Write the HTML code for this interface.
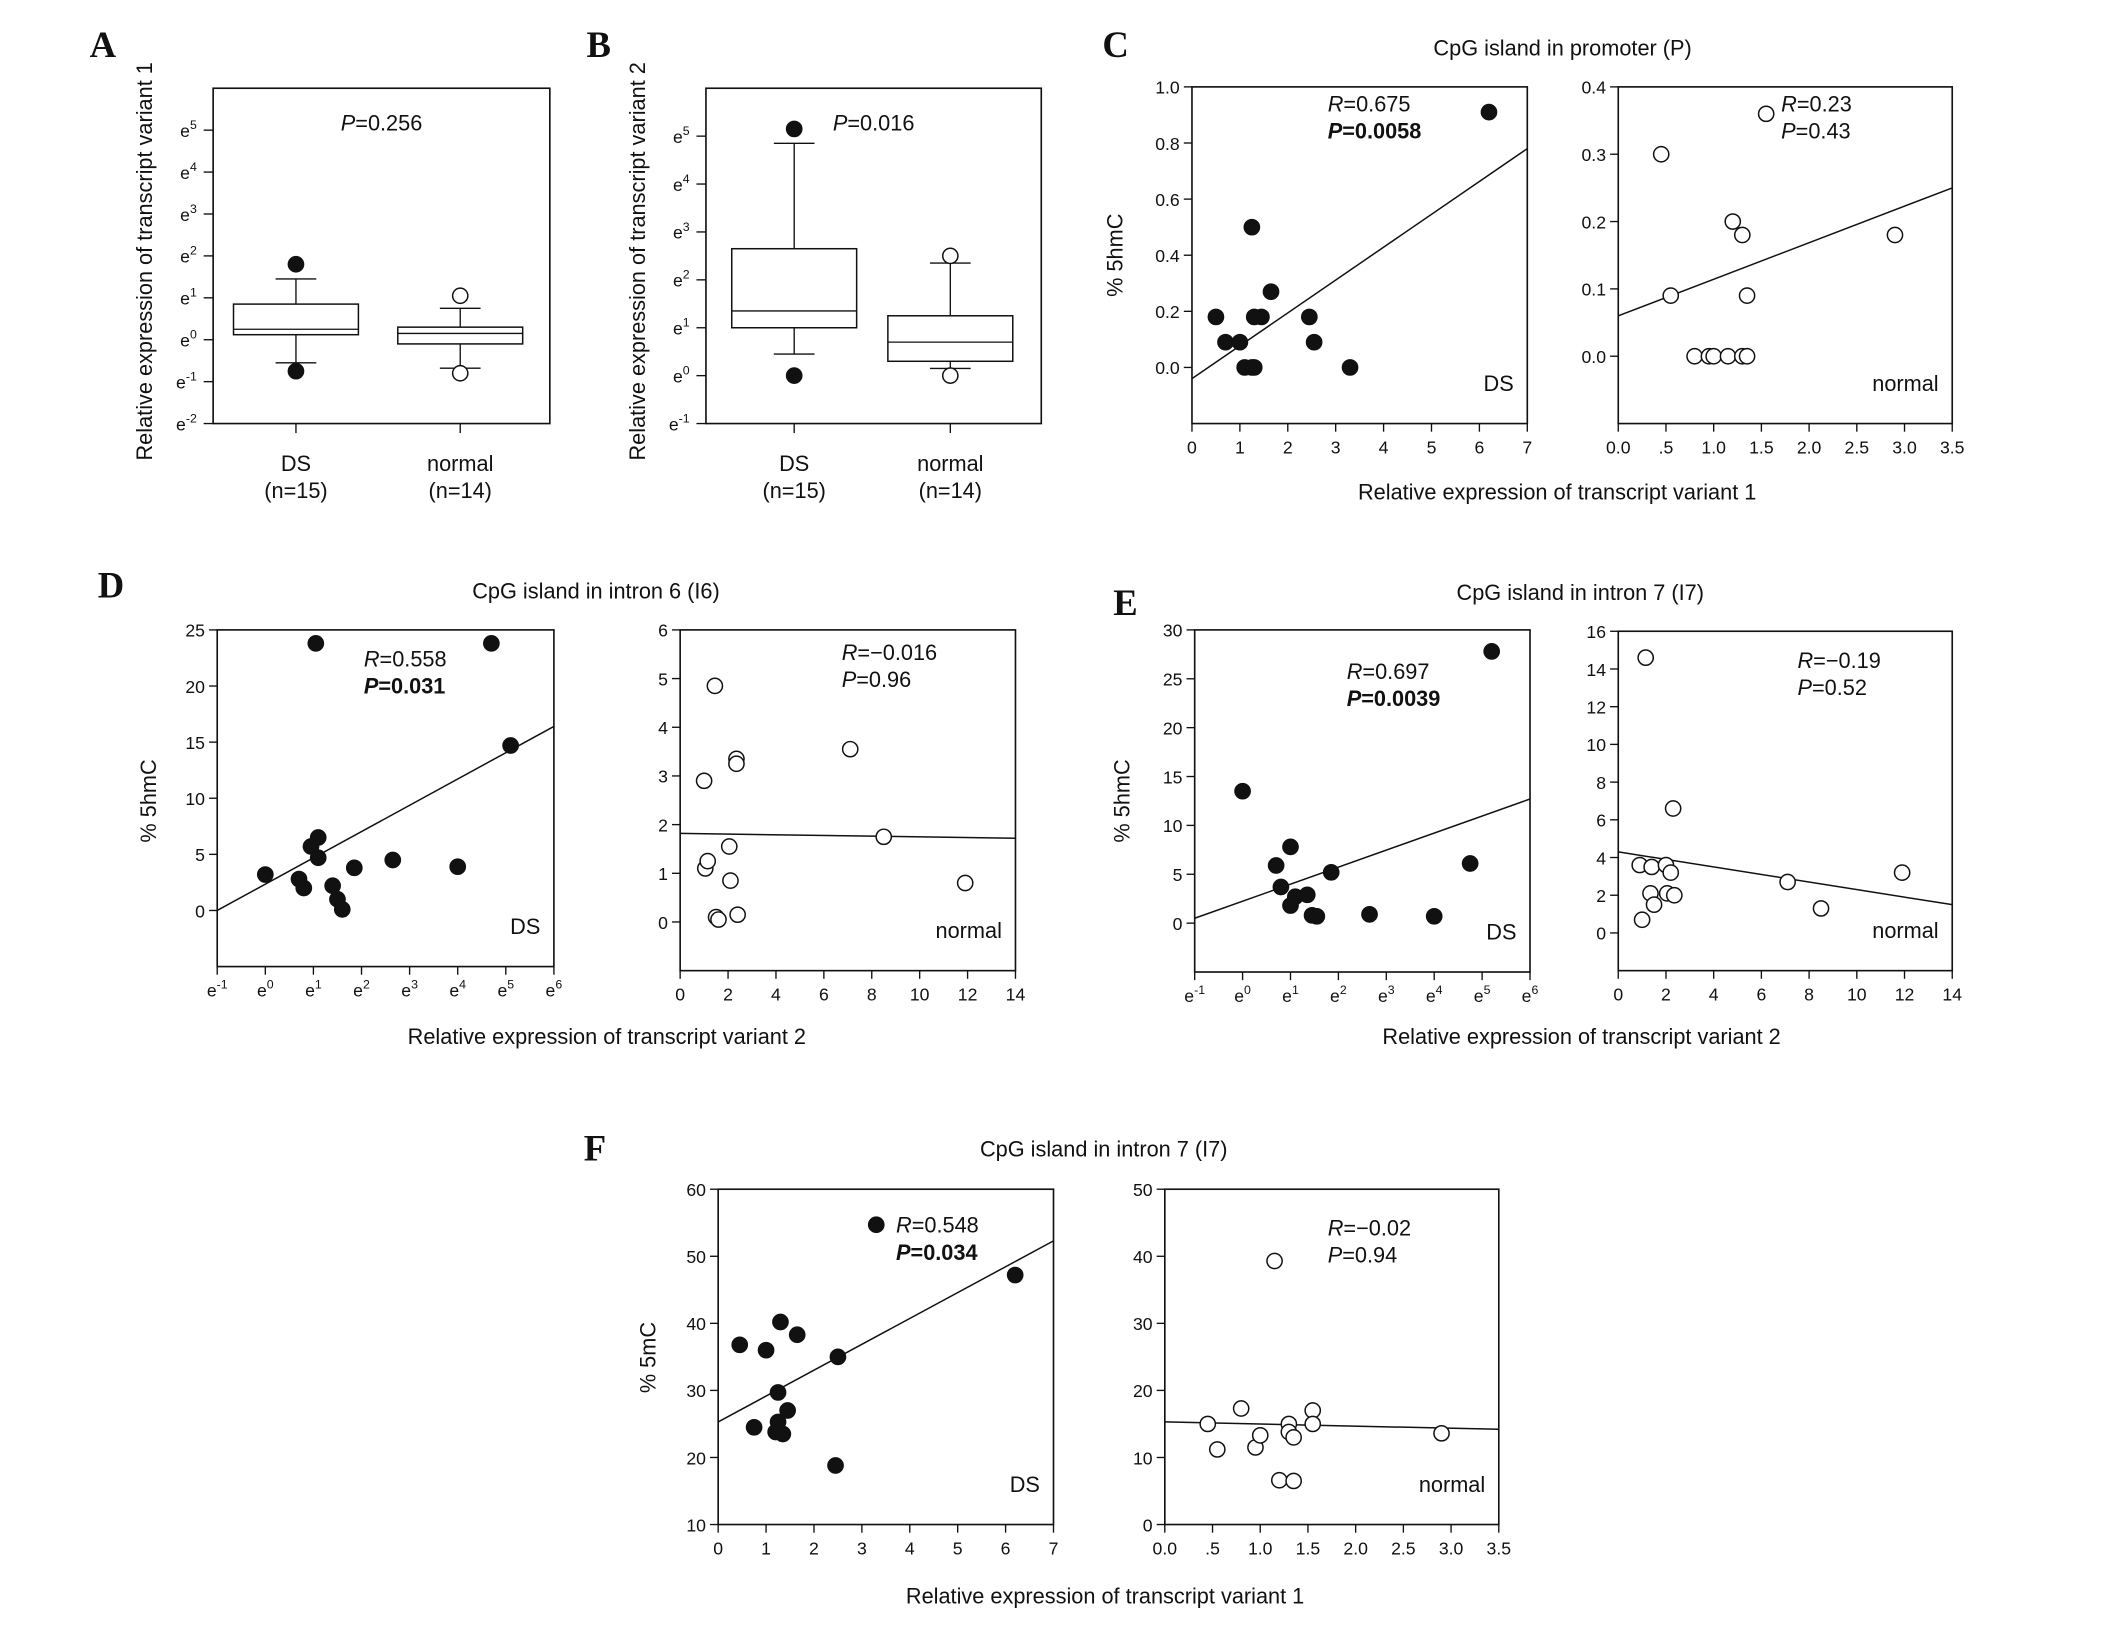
<!DOCTYPE html>
<html><head><meta charset="utf-8"><style>
html,body{margin:0;padding:0;background:#fff}
svg{display:block}
text{font-family:"Liberation Sans",Arial,sans-serif;fill:#111}
.pl{font-family:"Liberation Serif",serif;font-weight:bold;font-size:27px}
</style></head><body>
<svg id="fig" width="2126" height="1644" viewBox="0 0 1566 1211" preserveAspectRatio="none" xmlns="http://www.w3.org/2000/svg">
<g id="root"></g>
</svg>
<script>
// ---------- Data ----------
const boxCategories = ["DS","normal"];
const boxA_DS = {lo:-0.55, q1:0.12, med:0.25, q3:0.85, hi:1.45, out:[1.8,-0.75]};
const boxA_N  = {lo:-0.68, q1:-0.1, med:0.15, q3:0.3, hi:0.75, out:[1.05,-0.8]};
const boxB_DS = {lo:0.45, q1:1.0, med:1.35, q3:2.65, hi:4.85, out:[5.15,0]};
const boxB_N  = {lo:0.15, q1:0.3, med:0.7, q3:1.25, hi:2.35, out:[2.5,0]};

const cDS_x = [0.5,0.7,1.0,1.1,1.25,1.3,1.25,1.3,1.45,1.65,2.45,2.55,3.3,6.2];
const cDS_y = [0.18,0.09,0.09,0,0,0,0.5,0.18,0.18,0.27,0.18,0.09,0,0.91];
const cN_x = [0.45,0.55,0.8,0.95,1.0,1.15,1.2,1.3,1.3,1.35,1.35,1.55,2.9];
const cN_y = [0.3,0.09,0,0,0,0,0.2,0.18,0,0,0.09,0.36,0.18];

const dDS_x = [0,0.7,0.8,0.95,1.05,1.1,1.1,1.4,1.5,1.6,1.85,2.65,4,4.7,5.1];
const dDS_y = [3.2,2.8,2,5.7,23.8,4.7,6.5,2.2,1.0,0.1,3.8,4.5,3.9,23.8,14.7];
const dN_x = [1,1.05,1.15,1.45,1.5,1.6,2.05,2.1,2.35,2.35,2.4,7.1,8.5,11.9];
const dN_y = [2.9,1.1,1.25,4.85,0.1,0.05,1.55,0.85,3.35,3.25,0.15,3.55,1.75,0.8];

const eDS_x = [0,0.7,0.8,1,1,1.1,1.35,1.45,1.55,1.85,2.65,4,4.75,5.2];
const eDS_y = [13.5,5.9,3.7,7.8,1.8,2.7,2.9,0.8,0.7,5.2,0.9,0.7,6.1,27.8];
const eN_x = [0.9,1,1.15,1.35,1.4,1.5,2,2.05,2.2,2.3,2.35,7.1,8.5,11.9];
const eN_y = [3.6,0.7,14.6,2.1,3.5,1.5,3.6,2.1,3.2,6.6,2.0,2.7,1.3,3.2];

const fDS_x = [0.45,0.75,1,1.2,1.25,1.25,1.3,1.35,1.45,1.65,2.45,2.5,3.3,6.2];
const fDS_y = [36.8,24.5,36,23.8,25.3,29.7,40.2,23.5,27,38.3,18.8,35,54.7,47.2];
const fN_x = [0.45,0.55,0.8,0.95,1.0,1.15,1.2,1.3,1.3,1.35,1.35,1.55,1.55,2.9];
const fN_y = [15,11.2,17.3,11.5,13.3,39.3,6.6,15,13.8,13,6.5,17,15,13.6];

const lineC_DS=[-0.04,0.78], lineC_N=[0.06,0.25];
const lineD_DS=[0,16.4], lineD_N=[1.82,1.72];
const lineE_DS=[0.5,12.7], lineE_N=[4.3,1.5];
const lineF_DS=[25.3,52.3], lineF_N=[15.3,14.2];

const ticks0to7=["0","1","2","3","4","5","6","7"];
const ticks0to35=["0.0",".5","1.0","1.5","2.0","2.5","3.0","3.5"];
const ticks0to14=["0","2","4","6","8","10","12","14"];
const ticksExp=[-1,0,1,2,3,4,5,6];

// ---------- helpers ----------
const NS="http://www.w3.org/2000/svg";
const root=document.getElementById('root');
function el(tag,attrs,parent,txt){const e=document.createElementNS(NS,tag);for(const k in attrs)e.setAttribute(k,attrs[k]);if(txt!==undefined)e.textContent=txt;(parent||root).appendChild(e);return e;}
function txt(x,y,s,opt,parent){opt=opt||{};const t=el('text',{x:x,y:y,'font-size':opt.size||16,'text-anchor':opt.anchor||'start'},parent,s);
 if(opt.weight)t.setAttribute('font-weight',opt.weight); if(opt.style)t.setAttribute('font-style',opt.style);
 if(opt.rot)t.setAttribute('transform','rotate(-90 '+x+' '+y+')'); if(opt.cls)t.setAttribute('class',opt.cls);
 
  return t;}
function expLabel(x,y,p,anchor,g,size){size=size||13;const t=el('text',{x:x,y:y,'font-size':size,'text-anchor':anchor},g);
 
 
 el('tspan',{},t,'e'); el('tspan',{'font-size':size*0.7,dy:-size*0.45},t,String(p)); return t;}
function statText(x,y,key,val,bold,g){const t=el('text',{x:x,y:y,'font-size':16},g);
 
 
 if(bold)t.setAttribute('font-weight','bold');
 el('tspan',{'font-style':'italic'},t,key); el('tspan',{},t,val); return t;}

function scatterPanel(o){
 const g=el('g',{});
 
 
 const sx=v=>o.x0+(v-o.xmin)/(o.xmax-o.xmin)*(o.x1-o.x0);
 const sy=v=>o.y1-(v-o.ymin)/(o.ymax-o.ymin)*(o.y1-o.y0);
 const fr=el('rect',{x:o.x0,y:o.y0,width:o.x1-o.x0,height:o.y1-o.y0,fill:'none',stroke:'#111','stroke-width':1.2},g);
 
 
 o.yt.forEach(v=>{const y=sy(v);el('line',{x1:o.x0-6,x2:o.x0,y1:y,y2:y,stroke:'#111'},g);
   txt(o.x0-9,y+5,o.yfmt(v),{size:13,anchor:'end',name:'y-tick-label'},g);});
 o.xt.forEach((v,i)=>{const x=sx(v);el('line',{x1:x,x2:x,y1:o.y1,y2:o.y1+6,stroke:'#111'},g);
   if(o.xexp) expLabel(x,o.y1+22,o.xlab[i],'middle',g); else txt(x,o.y1+22,o.xlab[i],{size:13,anchor:'middle',name:'x-tick-label'},g);});
 const ln=el('line',{x1:sx(o.xmin),y1:sy(o.line[0]),x2:sx(o.xmax),y2:sy(o.line[1]),stroke:'#111','stroke-width':1.1},g);
 
 
 o.px.forEach((v,i)=>{const c=el('circle',{cx:sx(v),cy:sy(o.py[i]),r:5.6,fill:o.filled?'#111':'#fff',stroke:'#111','stroke-width':1.1},g);
   
   });
 statText(o.sx,o.sy,'R','='+o.R,false,g); statText(o.sx,o.sy+20,'P','='+o.P,o.bold,g);
 txt(o.x1-10,o.y1-24,o.grp,{size:16,anchor:'end',name:'group-label'},g);
 return g;}

function idx(a){return a.map((_,i)=>i);}
const f1=v=>v.toFixed(1), f0=v=>String(v);

function boxPanel(o){
 const g=el('g',{});
 
 
 const sy=v=>o.y1-(v-o.ymin)/(o.ymax-o.ymin)*(o.y1-o.y0);
 const fr=el('rect',{x:o.x0,y:o.y0,width:o.x1-o.x0,height:o.y1-o.y0,fill:'none',stroke:'#111','stroke-width':1.2},g);
 
 
 for(let p=o.ymin;p<=o.ymax-1;p++){const y=sy(p);el('line',{x1:o.x0-7,x2:o.x0,y1:y,y2:y,stroke:'#111'},g);expLabel(o.x0-12,y+5,p,'end',g,13);}
 o.boxes.forEach((b,i)=>{const cx=o.cx[i],w=46;
  el('line',{x1:cx,x2:cx,y1:o.y1,y2:o.y1+7,stroke:'#111'},g);
  el('line',{x1:cx,x2:cx,y1:sy(b.hi),y2:sy(b.lo),stroke:'#111'},g);
  el('line',{x1:cx-15,x2:cx+15,y1:sy(b.hi),y2:sy(b.hi),stroke:'#111'},g);
  el('line',{x1:cx-15,x2:cx+15,y1:sy(b.lo),y2:sy(b.lo),stroke:'#111'},g);
  const r=el('rect',{x:cx-w,y:sy(b.q3),width:2*w,height:sy(b.q1)-sy(b.q3),fill:'#fff',stroke:'#111','stroke-width':1.1},g);
  
  
  el('line',{x1:cx-w,x2:cx+w,y1:sy(b.med),y2:sy(b.med),stroke:'#111'},g);
  b.out.forEach(v=>{const c=el('circle',{cx:cx,cy:sy(v),r:5.6,fill:i==0?'#111':'#fff',stroke:'#111','stroke-width':1.1},g);
    
    });
  txt(cx,o.y1+35,boxCategories[i],{size:16,anchor:'middle',name:'category-label'},g);
  txt(cx,o.y1+55,i==0?'(n=15)':'(n=14)',{size:16,anchor:'middle',name:'n-label'},g);
 });
 statText((o.x0+o.x1)/2-30,o.y0+31,'P','='+o.P,false,g);
 txt(o.x0-45,(o.y0+o.y1)/2+4,o.ytitle,{size:16,anchor:'middle',rot:true,name:'y-axis-title'},g);
}
boxPanel({name:'panel-a',x0:157,x1:405,y0:65,y1:312,ymin:-2,ymax:6,cx:[218,339],boxes:[boxA_DS,boxA_N],P:'0.256',ytitle:'Relative expression of transcript variant 1'});
boxPanel({name:'panel-b',x0:520,x1:767,y0:65,y1:312,ymin:-1,ymax:6,cx:[585,700],boxes:[boxB_DS,boxB_N],P:'0.016',ytitle:'Relative expression of transcript variant 2'});

scatterPanel({name:'panel-c-ds',x0:878,x1:1125,y0:64,y1:312,xmin:0,xmax:7,ymin:-0.2,ymax:1.0,xt:idx(ticks0to7),xlab:ticks0to7,yt:[0,0.2,0.4,0.6,0.8,1.0],yfmt:f1,px:cDS_x,py:cDS_y,filled:true,line:lineC_DS,R:'0.675',P:'0.0058',bold:true,sx:978,sy:82,grp:'DS'});
scatterPanel({name:'panel-c-normal',x0:1192,x1:1438,y0:64,y1:312,xmin:0,xmax:3.5,ymin:-0.1,ymax:0.4,xt:idx(ticks0to35).map(i=>i*0.5),xlab:ticks0to35,yt:[0,0.1,0.2,0.3,0.4],yfmt:f1,px:cN_x,py:cN_y,filled:false,line:lineC_N,R:'0.23',P:'0.43',bold:false,sx:1312,sy:82,grp:'normal'});
scatterPanel({name:'panel-d-ds',x0:160,x1:408,y0:464,y1:712,xmin:-1,xmax:6,ymin:-5,ymax:25,xt:ticksExp,xlab:ticksExp,xexp:true,yt:[0,5,10,15,20,25],yfmt:f0,px:dDS_x,py:dDS_y,filled:true,line:lineD_DS,R:'0.558',P:'0.031',bold:true,sx:268,sy:491,grp:'DS'});
scatterPanel({name:'panel-d-normal',x0:501,x1:748,y0:464,y1:715,xmin:0,xmax:14,ymin:-1,ymax:6,xt:idx(ticks0to14).map(i=>i*2),xlab:ticks0to14,yt:[0,1,2,3,4,5,6],yfmt:f0,px:dN_x,py:dN_y,filled:false,line:lineD_N,R:'\u22120.016',P:'0.96',bold:false,sx:620,sy:486,grp:'normal'});
scatterPanel({name:'panel-e-ds',x0:880,x1:1127,y0:464,y1:716,xmin:-1,xmax:6,ymin:-5,ymax:30,xt:ticksExp,xlab:ticksExp,xexp:true,yt:[0,5,10,15,20,25,30],yfmt:f0,px:eDS_x,py:eDS_y,filled:true,line:lineE_DS,R:'0.697',P:'0.0039',bold:true,sx:992,sy:500,grp:'DS'});
scatterPanel({name:'panel-e-normal',x0:1192,x1:1438,y0:465,y1:715,xmin:0,xmax:14,ymin:-2,ymax:16,xt:idx(ticks0to14).map(i=>i*2),xlab:ticks0to14,yt:[0,2,4,6,8,10,12,14,16],yfmt:f0,px:eN_x,py:eN_y,filled:false,line:lineE_N,R:'\u22120.19',P:'0.52',bold:false,sx:1324,sy:492,grp:'normal'});
scatterPanel({name:'panel-f-ds',x0:529,x1:776,y0:876,y1:1123,xmin:0,xmax:7,ymin:10,ymax:60,xt:idx(ticks0to7),xlab:ticks0to7,yt:[10,20,30,40,50,60],yfmt:f0,px:fDS_x,py:fDS_y,filled:true,line:lineF_DS,R:'0.548',P:'0.034',bold:true,sx:660,sy:908,grp:'DS'});
scatterPanel({name:'panel-f-normal',x0:858,x1:1104,y0:876,y1:1123,xmin:0,xmax:3.5,ymin:0,ymax:50,xt:idx(ticks0to35).map(i=>i*0.5),xlab:ticks0to35,yt:[0,10,20,30,40,50],yfmt:f0,px:fN_x,py:fN_y,filled:false,line:lineF_N,R:'\u22120.02',P:'0.94',bold:false,sx:978,sy:910,grp:'normal'});

txt(66,42,'A',{cls:'pl',name:'panel-letter-a'});
txt(432,42,'B',{cls:'pl',name:'panel-letter-b'});
txt(812,42,'C',{cls:'pl',name:'panel-letter-c'});
txt(72,440,'D',{cls:'pl',name:'panel-letter-d'});
txt(820,453,'E',{cls:'pl',name:'panel-letter-e'});
txt(430,855,'F',{cls:'pl',name:'panel-letter-f'});
txt(1151,41,'CpG island in promoter (P)',{size:16,anchor:'middle',name:'title-c'});
txt(439,441,'CpG island in intron 6 (I6)',{size:16,anchor:'middle',name:'title-d'});
txt(1164,442,'CpG island in intron 7 (I7)',{size:16,anchor:'middle',name:'title-e'});
txt(813,852,'CpG island in intron 7 (I7)',{size:16,anchor:'middle',name:'title-f'});
txt(1147,368,'Relative expression of transcript variant 1',{size:16,anchor:'middle',name:'x-axis-title-c'});
txt(447,769,'Relative expression of transcript variant 2',{size:16,anchor:'middle',name:'x-axis-title-d'});
txt(1165,769,'Relative expression of transcript variant 2',{size:16,anchor:'middle',name:'x-axis-title-e'});
txt(814,1181,'Relative expression of transcript variant 1',{size:16,anchor:'middle',name:'x-axis-title-f'});
txt(827,188,'% 5hmC',{size:16,anchor:'middle',rot:true,name:'y-axis-title-c'});
txt(115,590,'% 5hmC',{size:16,anchor:'middle',rot:true,name:'y-axis-title-d'});
txt(832,590,'% 5hmC',{size:16,anchor:'middle',rot:true,name:'y-axis-title-e'});
txt(483,1000,'% 5mC',{size:16,anchor:'middle',rot:true,name:'y-axis-title-f'});
</script>
</body></html>
